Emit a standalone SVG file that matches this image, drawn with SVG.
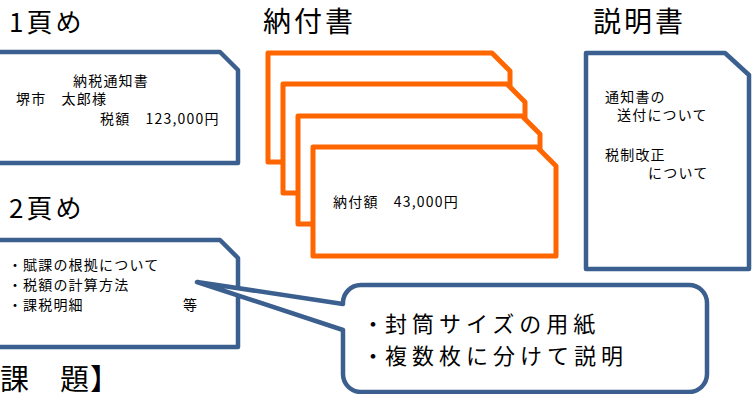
<svg xmlns="http://www.w3.org/2000/svg" width="752" height="394" viewBox="0 0 752 394">
<style>
.t{font-family:"Noto Sans CJK JP","Noto Sans",sans-serif;fill:#000}
.h{font-size:26px;letter-spacing:3px}
.s{font-size:14px;letter-spacing:1.2px}
.c{font-size:22px;letter-spacing:5px}
.d{letter-spacing:0}
.blue{fill:#fff;stroke:#3B5F8E;stroke-width:4.5;stroke-linejoin:round}
.org{fill:#fff;stroke:#FF6600;stroke-width:5;stroke-linejoin:round}
</style>
<rect width="752" height="394" fill="#fff"/>
<g id="headings">
<text class="t h" x="9" y="32">1頁め</text>
<text class="t h" x="263" y="32" style="font-size:28px">納付書</text>
<text class="t h" x="593" y="32" style="font-size:28px">説明書</text>
<text class="t h" x="9" y="218">2頁め</text>
<text class="t h" x="0" y="390" style="font-size:29px;letter-spacing:1px">課　題】</text>
</g>
<g id="page1">
<path class="blue" d="M-10,52 H220 L238,70 V163 H-10 Z"/>
<text class="t s" x="73" y="86">納税通知書</text>
<text class="t s" x="16" y="104">堺市　太郎様</text>
<text class="t s" x="100" y="124">税額　123,000円</text>
</g>
<g id="payment">
<path class="org" d="M268,53 H492 L510,71 V162 H268 Z"/>
<path class="org" d="M283,84 H507 L525,102 V193 H283 Z"/>
<path class="org" d="M298,116 H522 L540,134 V224 H298 Z"/>
<path class="org" d="M313,147 H537 L556,166 V256 H313 Z"/>
<text class="t s" x="333" y="207">納付額　43,000円</text>
</g>
<g id="explanation">
<path class="blue" d="M586,53 H725 L749,75 V269 H586 Z"/>
<text class="t s" x="605" y="102">通知書の</text>
<text class="t s" x="617" y="120">送付について</text>
<text class="t s" x="605" y="160">税制改正</text>
<text class="t s" x="648" y="178">について</text>
</g>
<g id="page2">
<path class="blue" d="M-10,240 H220 L238,258 V347 H-10 Z"/>
<text class="t s d" x="8" y="270">・</text><text class="t s" x="23" y="270">賦課の根拠について</text>
<text class="t s d" x="8" y="290">・</text><text class="t s" x="23" y="290">税額の計算方法</text>
<text class="t s d" x="8" y="310">・</text><text class="t s" x="23" y="310">課税明細</text>
<text class="t s" x="183" y="310">等</text>
</g>
<g id="connectors"></g>
<g id="callout">
<path class="blue" d="M361,285 H689 A18,18 0 0 1 707,303 V374 A18,18 0 0 1 689,392 H361 A18,18 0 0 1 343,374 V330 L197,282 L343,304 A18,18 0 0 1 361,285 Z"/>
<text class="t c d" x="362" y="332">・</text><text class="t c" x="385" y="332">封筒サイズの用紙</text>
<text class="t c d" x="362" y="364">・</text><text class="t c" x="385" y="364">複数枚に分けて説明</text>
</g>
</svg>
